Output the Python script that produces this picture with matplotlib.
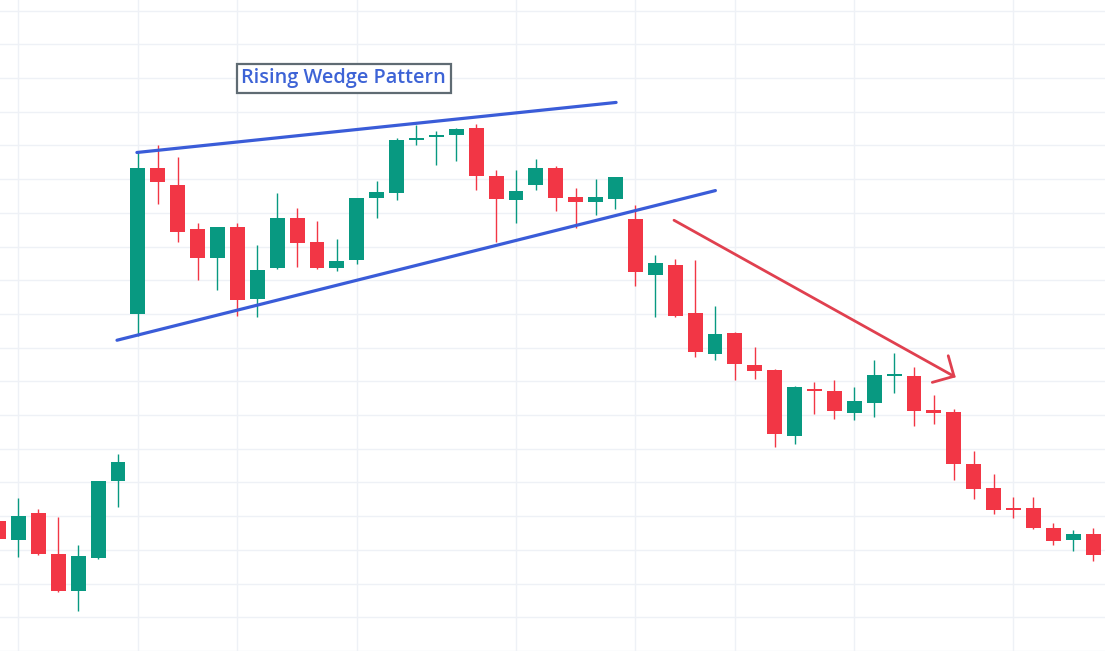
import matplotlib
matplotlib.use("Agg")
import matplotlib.pyplot as plt
import numpy as np

# OHLC (price units, grid every 10)
opens = [38.5, 32.9, 40.8, 28.9, 17.8, 27.5, 50.3, 100.0, 143.4, 138.4,
         125.1, 116.6, 125.7, 104.5, 113.6, 128.6, 121.2, 113.6, 116.0, 134.3,
         135.8, 151.7, 152.6, 153.2, 155.3, 140.8, 133.8, 138.2, 143.4, 134.6,
         133.2, 134.1, 128.3, 111.5, 114.4, 100.2, 88.2, 94.3, 84.9, 83.4,
         63.9, 77.8, 77.2, 70.7, 73.7, 81.7, 81.6, 71.6, 70.9, 55.6,
         48.3, 42.0, 42.3, 36.4, 32.9, 34.6]
closes = [33.2, 40.2, 28.7, 17.8, 28.3, 50.5, 56.2, 143.4, 139.2, 124.3,
          116.6, 125.7, 104.2, 113.0, 128.6, 121.0, 113.6, 115.6, 134.3, 136.1,
          151.7, 152.3, 153.0, 155.0, 140.9, 134.1, 136.6, 143.4, 134.3, 133.2,
          134.6, 140.5, 112.5, 115.0, 99.4, 88.8, 94.0, 85.2, 83.2, 64.5,
          78.3, 77.0, 71.3, 74.2, 81.9, 82.0, 71.3, 70.7, 55.4, 48.0,
          41.7, 41.7, 36.4, 32.6, 34.6, 28.4]
highs = [39.3, 45.5, 42.0, 39.9, 31.3, 50.5, 58.5, 148.0, 150.0, 146.7,
         126.9, 125.7, 126.9, 120.4, 136.0, 131.3, 127.5, 122.1, 134.5, 139.4,
         152.3, 156.2, 154.4, 155.3, 156.4, 142.8, 142.8, 146.1, 144.0, 137.5,
         139.9, 140.7, 132.2, 117.4, 116.2, 115.9, 102.3, 94.6, 90.3, 83.6,
         78.5, 79.9, 80.4, 78.3, 86.3, 88.4, 84.3, 76.0, 71.8, 59.4,
         52.4, 45.6, 45.6, 37.9, 35.8, 36.4]
lows = [32.2, 28.0, 28.4, 17.6, 11.9, 27.4, 42.6, 93.5, 132.5, 121.3,
        110.1, 107.1, 99.4, 99.1, 113.3, 113.9, 113.4, 112.8, 114.8, 128.4,
        133.8, 150.0, 144.3, 145.5, 136.7, 121.3, 127.0, 136.7, 130.5, 125.5,
        129.3, 131.1, 108.3, 99.1, 99.2, 87.3, 86.4, 80.5, 80.8, 60.4,
        61.3, 70.4, 68.7, 68.4, 69.3, 76.4, 66.9, 67.2, 50.6, 45.0,
        40.6, 39.4, 36.2, 31.4, 29.6, 26.7]

# vertical grid falls on these bars (day separators in the source chart)
grid_bars = [1, 7, 12, 18, 26, 32, 37, 43, 51]

# drawn annotations: (bar index, price)
upper_line = [(6.95, 147.9), (31.03, 162.75)]
lower_line = [(5.95, 92.2), (36.02, 136.6)]
arrow_shaft = [(33.94, 127.8), (48.01, 81.5)]
arrow_wings = [(47.72, 87.6), (48.01, 81.5), (46.92, 79.7)]
label_pos = (17.35, 169.9)
label_text = "Rising Wedge Pattern"

C_UP = "#089981"
C_DOWN = "#f23645"
C_WEDGE = "#3a5cd8"
C_ARROW = "#e0404f"
C_GRID = "#eef1f6"

fig = plt.figure(figsize=(11.05, 6.51), dpi=100)
ax = fig.add_axes([0, 0, 1, 1])

x = np.arange(len(opens))
o = np.array(opens)
c = np.array(closes)
up = c >= o
colors = np.where(up, C_UP, C_DOWN)

ax.vlines(x, lows, highs, colors=colors, linewidth=1.0, zorder=2)
body_bottom = np.minimum(o, c)
body_h = np.maximum(np.abs(c - o), 0.6)
ax.bar(x, body_h, bottom=body_bottom, width=0.75, color=colors, linewidth=0, zorder=3)

ax.plot(*zip(*upper_line), color=C_WEDGE, linewidth=2.3, solid_capstyle="round", zorder=4)
ax.plot(*zip(*lower_line), color=C_WEDGE, linewidth=2.3, solid_capstyle="round", zorder=4)
ax.plot(*zip(*arrow_shaft), color=C_ARROW, linewidth=2.0, solid_capstyle="round", zorder=4)
ax.plot(*zip(*arrow_wings), color=C_ARROW, linewidth=2.0, solid_capstyle="round",
        solid_joinstyle="miter", zorder=4)

ax.text(label_pos[0], label_pos[1], label_text, ha="center", va="center",
        fontsize=14.3, family=["Open Sans", "DejaVu Sans"], weight="semibold", color="#3d63d6",
        bbox=dict(boxstyle="square,pad=0.22", facecolor="white", edgecolor="#5f6b73", linewidth=1.6),
        zorder=5)

ax.set_xlim(0.0704, 55.598)
ax.set_ylim(0.53, 193.14)
ax.set_xticks(grid_bars)
ax.set_yticks(np.arange(0, 200, 10))
ax.grid(True, color=C_GRID, linewidth=1.0, zorder=0)
ax.set_axisbelow(True)
ax.tick_params(length=0, labelbottom=False, labelleft=False)
for s in ax.spines.values():
    s.set_visible(False)

fig.savefig("out.png", dpi=100, facecolor="white")
